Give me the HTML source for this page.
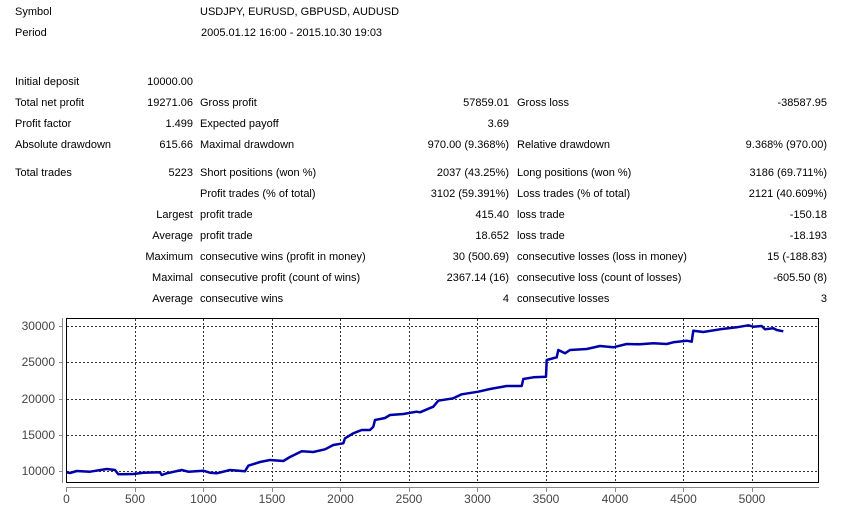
<!DOCTYPE html>
<html><head><meta charset="utf-8"><style>
body{margin:0;width:843px;height:509px;background:#fff;font-family:"Liberation Sans",sans-serif;font-size:11px;color:#000;position:relative;overflow:hidden}
.t{position:absolute;line-height:14px;white-space:nowrap}
.r{text-align:right}
</style></head><body>
<div class="t" style="left:15px;top:5px">Symbol</div>
<div class="t" style="left:200px;top:5px">USDJPY, EURUSD, GBPUSD, AUDUSD</div>
<div class="t" style="left:15px;top:26px">Period</div>
<div class="t" style="left:201px;top:26px">2005.01.12 16:00 - 2015.10.30 19:03</div>

<div class="t" style="left:15px;top:75px">Initial deposit</div>
<div class="t r" style="right:650px;top:75px">10000.00</div>

<div class="t" style="left:15px;top:96px">Total net profit</div>
<div class="t r" style="right:650px;top:96px">19271.06</div>
<div class="t" style="left:200px;top:96px">Gross profit</div>
<div class="t r" style="right:334px;top:96px">57859.01</div>
<div class="t" style="left:517px;top:96px">Gross loss</div>
<div class="t r" style="right:16px;top:96px">-38587.95</div>

<div class="t" style="left:15px;top:117px">Profit factor</div>
<div class="t r" style="right:650px;top:117px">1.499</div>
<div class="t" style="left:200px;top:117px">Expected payoff</div>
<div class="t r" style="right:334px;top:117px">3.69</div>

<div class="t" style="left:15px;top:138px">Absolute drawdown</div>
<div class="t r" style="right:650px;top:138px">615.66</div>
<div class="t" style="left:200px;top:138px">Maximal drawdown</div>
<div class="t r" style="right:334px;top:138px">970.00 (9.368%)</div>
<div class="t" style="left:517px;top:138px">Relative drawdown</div>
<div class="t r" style="right:16px;top:138px">9.368% (970.00)</div>

<div class="t" style="left:15px;top:166px">Total trades</div>
<div class="t r" style="right:650px;top:166px">5223</div>
<div class="t" style="left:200px;top:166px">Short positions (won %)</div>
<div class="t r" style="right:334px;top:166px">2037 (43.25%)</div>
<div class="t" style="left:517px;top:166px">Long positions (won %)</div>
<div class="t r" style="right:16px;top:166px">3186 (69.711%)</div>

<div class="t" style="left:200px;top:187px">Profit trades (% of total)</div>
<div class="t r" style="right:334px;top:187px">3102 (59.391%)</div>
<div class="t" style="left:517px;top:187px">Loss trades (% of total)</div>
<div class="t r" style="right:16px;top:187px">2121 (40.609%)</div>

<div class="t r" style="right:650px;top:208px">Largest</div>
<div class="t" style="left:200px;top:208px">profit trade</div>
<div class="t r" style="right:334px;top:208px">415.40</div>
<div class="t" style="left:517px;top:208px">loss trade</div>
<div class="t r" style="right:16px;top:208px">-150.18</div>

<div class="t r" style="right:650px;top:229px">Average</div>
<div class="t" style="left:200px;top:229px">profit trade</div>
<div class="t r" style="right:334px;top:229px">18.652</div>
<div class="t" style="left:517px;top:229px">loss trade</div>
<div class="t r" style="right:16px;top:229px">-18.193</div>

<div class="t r" style="right:650px;top:250px">Maximum</div>
<div class="t" style="left:200px;top:250px">consecutive wins (profit in money)</div>
<div class="t r" style="right:334px;top:250px">30 (500.69)</div>
<div class="t" style="left:517px;top:250px">consecutive losses (loss in money)</div>
<div class="t r" style="right:16px;top:250px">15 (-188.83)</div>

<div class="t r" style="right:650px;top:271px">Maximal</div>
<div class="t" style="left:200px;top:271px">consecutive profit (count of wins)</div>
<div class="t r" style="right:334px;top:271px">2367.14 (16)</div>
<div class="t" style="left:517px;top:271px">consecutive loss (count of losses)</div>
<div class="t r" style="right:16px;top:271px">-605.50 (8)</div>

<div class="t r" style="right:650px;top:292px">Average</div>
<div class="t" style="left:200px;top:292px">consecutive wins</div>
<div class="t r" style="right:334px;top:292px">4</div>
<div class="t" style="left:517px;top:292px">consecutive losses</div>
<div class="t r" style="right:16px;top:292px">3</div>

<svg width="843" height="509" style="position:absolute;left:0;top:0" font-family="'Liberation Sans',sans-serif" font-size="12" fill="#444">
<g stroke="#888" stroke-width="1" fill="none">
<line x1="62.5" y1="318" x2="62.5" y2="483"/>
<line x1="66" y1="487.5" x2="819" y2="487.5"/>
<path d="M59 326.5H63M59 362.5H63M59 399.5H63M59 435.5H63M59 471.5H63"/>
<path d="M66.5 488V492M135.5 488V492M203.5 488V492M272.5 488V492M340.5 488V492M409.5 488V492M477.5 488V492M546.5 488V492M615.5 488V492M683.5 488V492M752.5 488V492"/>
</g>
<g stroke="#333" stroke-width="1" stroke-dasharray="2,2" fill="none">
<path d="M67 326.5H819M67 362.5H819M67 399.5H819M67 435.5H819M67 471.5H819"/>
<path d="M135.5 319V483M203.5 319V483M272.5 319V483M340.5 319V483M409.5 319V483M477.5 319V483M546.5 319V483M615.5 319V483M683.5 319V483M752.5 319V483"/>
</g>
<rect x="66.5" y="318.5" width="752" height="164" fill="none" stroke="#000"/>
<g text-anchor="end">
<text x="55" y="330">30000</text><text x="55" y="366">25000</text><text x="55" y="403">20000</text><text x="55" y="439">15000</text><text x="55" y="475">10000</text>
</g>
<g text-anchor="middle">
<text x="66.5" y="503">0</text><text x="135" y="503">500</text><text x="203.5" y="503">1000</text><text x="272" y="503">1500</text><text x="340.5" y="503">2000</text><text x="409" y="503">2500</text><text x="477.5" y="503">3000</text><text x="546" y="503">3500</text><text x="615" y="503">4000</text><text x="683.5" y="503">4500</text><text x="752" y="503">5000</text>
</g>
<polyline fill="none" stroke="#0000AA" stroke-width="2.5" stroke-linejoin="round" points="66.7,472.3 70,473 76.7,471 90,471.7 106.7,469 115,470 118.3,474.3 133.3,474 143.3,472.7 160,472.3 161.7,475 166.7,473.3 181.7,470 188.3,471.7 203.3,470.7 210,472.7 216.7,473.3 230,470 245,471.3 248.3,465.7 260,462 270,460 283.3,461 290,457 301.7,451.3 313.3,452 325,449.3 333.3,445 343.3,443.3 345,438.3 353.3,433.3 361.7,430 370,430 373.3,426.7 375,420 385,418 390,415 403.3,414 416.7,411.7 420,412.3 433.3,406.7 438.3,400.7 453.3,398.3 461.7,394.3 478.3,391.7 490,389 506.7,386 521.7,386 523.3,379 533.3,377.3 546,376.7 546.7,360 556.7,357.3 558.3,350 565,353.3 570,350 586.7,349 600,346 613.3,347.3 626.7,344 640,344.3 653.3,343.3 666.7,344 673.3,342.3 686.7,340.7 691.7,341.7 693.3,330.7 703.3,332 720,329.3 736.7,327.3 748.3,325.3 753.3,326.7 761.7,326 765,329.3 773.3,328.3 776.7,330 783.3,331.3"/>
</svg>
</body></html>
